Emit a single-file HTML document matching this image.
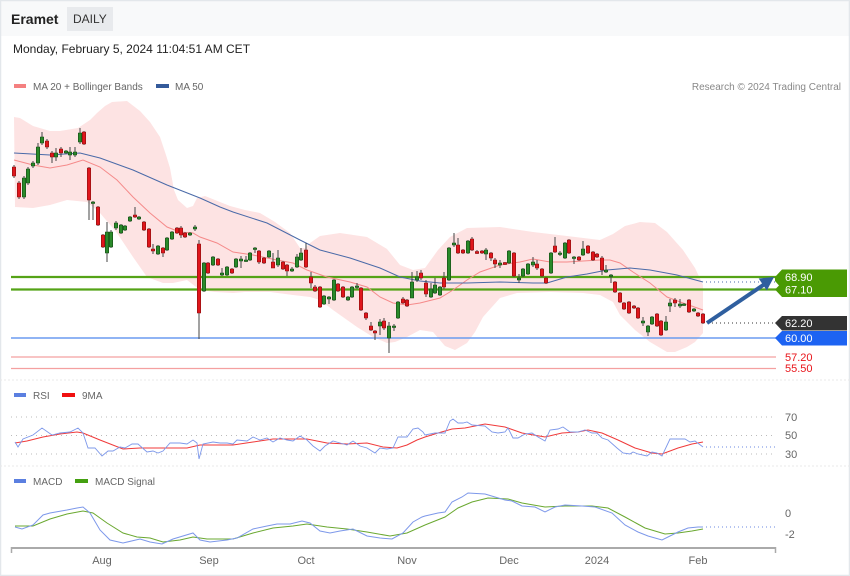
<!DOCTYPE html>
<html><head><meta charset="utf-8"><style>
html,body{margin:0;padding:0;background:#fff;}
svg{display:block;font-family:"Liberation Sans",Arial,sans-serif;}
</style></head><body>
<svg width="850" height="576" viewBox="0 0 850 576" xmlns="http://www.w3.org/2000/svg">
<rect x="0" y="0" width="850" height="576" fill="#fff"/>
<rect x="0" y="0" width="850" height="36" fill="#f8f9fa"/>
<rect x="0.5" y="0.5" width="849" height="575" fill="none" stroke="#e3e7eb" stroke-width="1.5"/>
<text x="11" y="24" font-size="14" font-weight="bold" fill="#222">Eramet</text>
<rect x="67" y="7" width="46" height="24" fill="#e8eaed"/>
<text x="73" y="23" font-size="12" fill="#333">DAILY</text>
<text x="13" y="53" font-size="12" fill="#222">Monday, February 5, 2024 11:04:51 AM CET</text>
<rect x="14" y="84" width="12" height="4" fill="#f48080"/>
<text x="33" y="90" font-size="10" fill="#666">MA 20 + Bollinger Bands</text>
<rect x="156" y="84" width="13" height="4" fill="#345a9a"/>
<text x="175" y="90" font-size="10" fill="#666">MA 50</text>
<text x="841" y="90" font-size="10" fill="#888" text-anchor="end">Research © 2024 Trading Central</text>

<!-- Bollinger band -->
<polygon fill="#fde3e3" points="14,117 20,118 33,126 50,131 60,131 78,128 90,120 97,113 105,106 112,102 127,101 140,111 150,122 160,137 166,155 170,168 174,190 178,200 187,208 193,206 197,198 205,196 215,200 230,206 245,210 260,213 275,222 290,233 300,248 305,248 310,243 320,236 340,233 367,237 387,249 400,265 413,270 425,268 438,250 450,237 467,228 500,227 533,232 567,236 600,240 613,234 625,226 640,222 655,223 667,232 683,250 695,268 703,285 703,333 695,342 687,347 675,352 667,352 650,342 635,330 620,315 613,302 600,295 583,293 550,292 517,293 500,298 483,317 475,332 467,343 455,350 445,346 433,332 420,330 407,337 395,342 387,343 373,337 357,327 333,310 320,300 310,297 293,295 270,292 245,292 233,293 215,292 200,290 187,280 173,283 163,283 147,277 133,257 117,233 100,213 87,202 67,200 50,205 33,208 15,207"/>

<!-- horizontal levels -->
<line x1="11" y1="277" x2="776" y2="277" stroke="#55a317" stroke-width="2.2"/>
<line x1="11" y1="289.5" x2="776" y2="289.5" stroke="#55a317" stroke-width="2.2"/>
<line x1="11" y1="338" x2="776" y2="338" stroke="#6b9cf0" stroke-width="1.6"/>
<line x1="11" y1="357" x2="776" y2="357" stroke="#f4a0a0" stroke-width="1.2"/>
<line x1="11" y1="368.5" x2="776" y2="368.5" stroke="#f4a0a0" stroke-width="1.2"/>

<!-- MA lines -->
<polyline fill="none" stroke="#f58a8a" stroke-width="1" points="14,160 33,165 50,168 67,165 83,160 100,167 117,180 133,197 150,213 167,227 180,232 193,233 200,237 217,243 233,252 253,255 277,260 293,263 307,270 327,277 350,282 367,287 380,297 393,303 407,305 420,303 440,298 453,290 467,280 480,272 500,265 520,262 533,259 550,262 567,262 583,261 600,260 610,260 620,263 633,272 650,283 667,297 683,303 703,310"/>
<polyline fill="none" stroke="#4a6aa8" stroke-width="1" points="14,153 50,155 80,153 100,158 133,170 167,185 200,198 220,207 233,212 267,223 300,240 320,250 350,258 380,268 400,277 420,281 440,283 467,283 500,282 533,283 547,283 567,277 587,274 607,270 630,268 650,270 677,275 703,282"/>
<line x1="706" y1="282" x2="776" y2="282" stroke="#4a6aa8" stroke-width="1" stroke-dasharray="1,3"/>
<line x1="708" y1="323" x2="776" y2="323" stroke="#333" stroke-width="1" stroke-dasharray="1,3"/>

<!-- candles -->
<g id="candles">
<path fill="none" stroke="#444" stroke-width="1" d="M14 165V178M19 181V199M24 176V199M28 167V185M33 161V168M38 143V165M42 132V145M47 139V149M52 151V163M56 148V161M61 147V157M66 150V154M70 147V160M75 147V157M80 128V144M84 131V145M89 167V220M93 201V220M98 206V226M103 234V248M107 222V262M111 230V248M116 221V230M121 224V234M125 225V231M130 216V222M135 207V218M139 216V220M144 221V231M149 228V248M153 244V254M158 245V255M163 247V257M167 237V251M172 231V240M177 227V234M181 226V238M185 232V238M190 232V236M195 225V231M199 240V339M204 262V292M208 262V274M213 256V266M218 258V266M222 268V276M227 266V276M232 268V274M236 258V268M241 256V268M246 256V262M250 252V261M255 247V253M259 250V264M264 257V264M269 250V258M273 253V268M278 250V267M283 261V270M287 264V276M292 267V272M297 254V268M301 248V261M306 243V268M311 272V288M315 285V292M320 286V308M324 295V305M329 296V304M334 279V301M338 283V292M343 286V298M348 296V301M352 286V298M357 283V289M361 287V311M366 312V320M371 322V331M375 330V340M380 319V335M384 318V330M389 322V353M394 324V331M398 301V319M403 297V304M407 299V307M412 272V298M417 271V282M421 270V280M426 280V297M431 283V298M435 278V294M440 286V296M444 272V289M449 247V281M454 233V247M458 238V254M463 249V254M468 240V254M472 237V251M477 250V254M482 250V254M486 248V260M491 252V261M495 258V268M500 260V268M505 262V265M509 250V264M514 252V277M519 274V283M523 268V277M528 263V275M533 257V267M537 260V270M542 268V277M546 277V284M551 252V274M555 237V253M560 251V256M565 242V259M569 239V254M574 256V264M579 256V261M583 241V256M588 245V254M593 251V261M597 253V258M602 256V275M606 265V273M611 274V283M615 281V293M620 292V303M624 302V310M629 301V314M634 305V309M638 307V319M643 317V326M648 325V336M652 316V325M657 313V327M661 320V336M666 316V331M670 299V312M675 298V307M680 299V308M684 303V306M689 299V313M694 308V312M698 312V317M703 313V324"/>
<path fill="#e0161c" stroke="#8a1010" stroke-width="0.6" d="M12.3 167h3.4v9h-3.4zM17.3 183h3.4v14h-3.4zM45.3 141h3.4v6h-3.4zM50.3 153h3.4v4h-3.4zM59.3 149h3.4v4h-3.4zM82.3 132h3.4v12h-3.4zM87.3 168h3.4v32h-3.4zM96.3 207h3.4v18h-3.4zM101.3 235h3.4v12h-3.4zM133.3 215h3.4v2h-3.4zM142.3 222h3.4v8h-3.4zM147.3 229h3.4v18h-3.4zM151.3 249h3.4v2h-3.4zM161.3 248h3.4v5h-3.4zM175.3 228h3.4v5h-3.4zM179.3 228h3.4v7h-3.4zM183.3 233h3.4v4h-3.4zM197.3 244h3.4v69h-3.4zM206.3 263h3.4v10h-3.4zM216.3 259h3.4v6h-3.4zM230.3 269h3.4v4h-3.4zM257.3 251h3.4v11h-3.4zM262.3 258h3.4v5h-3.4zM271.3 262h3.4v6h-3.4zM281.3 262h3.4v7h-3.4zM285.3 265h3.4v6h-3.4zM304.3 250h3.4v17h-3.4zM309.3 277h3.4v6h-3.4zM313.3 287h3.4v4h-3.4zM318.3 287h3.4v20h-3.4zM336.3 284h3.4v7h-3.4zM341.3 287h3.4v10h-3.4zM359.3 288h3.4v22h-3.4zM364.3 313h3.4v5h-3.4zM369.3 326h3.4v4h-3.4zM373.3 331h3.4v2h-3.4zM382.3 321h3.4v7h-3.4zM401.3 299h3.4v4h-3.4zM405.3 300h3.4v6h-3.4zM419.3 273h3.4v5h-3.4zM424.3 283h3.4v11h-3.4zM442.3 278h3.4v9h-3.4zM456.3 245h3.4v8h-3.4zM461.3 250h3.4v3h-3.4zM470.3 239h3.4v11h-3.4zM475.3 251.5h3.4v2h-3.4zM480.3 251h3.4v2h-3.4zM489.3 253h3.4v5h-3.4zM493.3 260h3.4v4h-3.4zM503.3 262.5h3.4v2h-3.4zM512.3 253h3.4v23h-3.4zM535.3 264h3.4v4h-3.4zM540.3 269h3.4v7h-3.4zM544.3 278h3.4v5h-3.4zM553.3 246h3.4v6h-3.4zM567.3 240h3.4v13h-3.4zM577.3 257h3.4v3h-3.4zM586.3 246h3.4v7h-3.4zM591.3 252h3.4v8h-3.4zM595.3 254h3.4v3h-3.4zM600.3 258h3.4v12h-3.4zM613.3 282h3.4v10h-3.4zM618.3 293h3.4v9h-3.4zM622.3 303h3.4v6h-3.4zM627.3 302h3.4v11h-3.4zM632.3 306h3.4v2h-3.4zM636.3 308h3.4v10h-3.4zM655.3 314h3.4v12h-3.4zM659.3 321h3.4v14h-3.4zM673.3 300h3.4v3h-3.4zM687.3 300h3.4v12h-3.4zM696.3 313h3.4v3h-3.4zM701.3 314h3.4v9h-3.4z"/>
<path fill="#2a8a2a" stroke="#154a15" stroke-width="0.6" d="M22.3 178h3.4v19h-3.4zM26.3 169h3.4v14h-3.4zM31.3 163h3.4v3h-3.4zM36.3 147h3.4v16h-3.4zM40.3 137h3.4v6h-3.4zM54.3 153h3.4v4h-3.4zM64.3 151h3.4v2h-3.4zM68.3 152h3.4v3h-3.4zM73.3 152h3.4v3h-3.4zM78.3 133h3.4v9h-3.4zM91.3 202h3.4v1.5h-3.4zM105.3 232h3.4v21h-3.4zM109.3 232h3.4v15h-3.4zM114.3 223h3.4v5h-3.4zM119.3 225h3.4v8h-3.4zM123.3 226h3.4v4h-3.4zM128.3 217h3.4v4h-3.4zM137.3 217h3.4v2h-3.4zM156.3 246h3.4v8h-3.4zM165.3 238h3.4v12h-3.4zM170.3 232h3.4v7h-3.4zM188.3 233h3.4v2h-3.4zM193.3 227h3.4v2h-3.4zM202.3 263h3.4v28h-3.4zM211.3 257h3.4v8h-3.4zM220.3 273h3.4v2h-3.4zM225.3 267h3.4v8h-3.4zM234.3 259h3.4v8h-3.4zM239.3 259h3.4v2h-3.4zM244.3 260h3.4v1.5h-3.4zM248.3 253h3.4v7h-3.4zM253.3 248h3.4v1.5h-3.4zM267.3 251h3.4v6h-3.4zM276.3 258h3.4v7h-3.4zM290.3 269h3.4v2h-3.4zM295.3 257h3.4v10h-3.4zM299.3 253h3.4v7h-3.4zM322.3 296h3.4v8h-3.4zM327.3 297h3.4v2h-3.4zM332.3 280h3.4v20h-3.4zM346.3 297h3.4v3h-3.4zM350.3 287h3.4v10h-3.4zM355.3 286h3.4v1.5h-3.4zM378.3 322h3.4v4h-3.4zM387.3 326h3.4v12h-3.4zM392.3 326h3.4v1.5h-3.4zM396.3 302h3.4v16h-3.4zM410.3 282h3.4v16h-3.4zM415.3 277h3.4v3h-3.4zM429.3 289h3.4v8h-3.4zM433.3 285h3.4v8h-3.4zM438.3 287h3.4v8h-3.4zM447.3 248h3.4v32h-3.4zM452.3 243h3.4v2h-3.4zM466.3 241h3.4v12h-3.4zM484.3 250h3.4v4h-3.4zM498.3 263h3.4v2h-3.4zM507.3 251h3.4v12h-3.4zM517.3 278h3.4v2h-3.4zM521.3 269h3.4v7h-3.4zM526.3 264h3.4v10h-3.4zM531.3 262h3.4v3h-3.4zM549.3 253h3.4v20h-3.4zM558.3 253h3.4v1.5h-3.4zM563.3 243h3.4v15h-3.4zM572.3 257h3.4v1.5h-3.4zM581.3 249h3.4v6h-3.4zM604.3 270h3.4v2h-3.4zM609.3 275h3.4v1.5h-3.4zM641.3 321h3.4v2h-3.4zM646.3 326h3.4v6h-3.4zM650.3 317h3.4v7h-3.4zM664.3 322h3.4v8h-3.4zM668.3 303h3.4v3h-3.4zM678.3 304h3.4v2h-3.4zM682.3 304h3.4v1.5h-3.4zM692.3 309h3.4v2h-3.4z"/>
</g>

<!-- arrow -->
<line x1="707" y1="323" x2="764" y2="284.5" stroke="#2f5f9f" stroke-width="4"/>
<polygon fill="#2f5f9f" points="774,277 766.8,290.5 758.7,278.5"/>

<!-- tags -->
<polygon fill="#4a9a04" points="775,277 782,269.5 847,269.5 847,297 782,297 775,289.5 779,285.5 775,281"/>
<text x="785" y="281" font-size="11" fill="#fff">68.90</text>
<text x="785" y="293.5" font-size="11" fill="#fff">67.10</text>
<polygon fill="#333" points="775,323 782,316 847,316 847,330.5 782,330.5"/>
<text x="785" y="327" font-size="11" fill="#fff">62.20</text>
<polygon fill="#1d63f2" points="775,338 782,331 847,331 847,345.5 782,345.5"/>
<text x="785" y="342" font-size="11" fill="#fff">60.00</text>
<text x="785" y="361" font-size="11" fill="#e8141a">57.20</text>
<text x="785" y="372" font-size="11" fill="#e8141a">55.50</text>

<!-- separators -->
<line x1="0" y1="380" x2="850" y2="380" stroke="#e8e8e8" stroke-width="1" stroke-dasharray="2,2"/>
<line x1="0" y1="466" x2="850" y2="466" stroke="#e8e8e8" stroke-width="1" stroke-dasharray="2,2"/>

<!-- RSI panel -->
<rect x="14" y="393" width="12" height="4" fill="#5b7fe0"/>
<text x="33" y="399" font-size="10" fill="#666">RSI</text>
<rect x="62" y="393" width="13" height="4" fill="#f01010"/>
<text x="82" y="399" font-size="10" fill="#666">9MA</text>
<g stroke="#bbb" stroke-width="1" stroke-dasharray="1,4">
<line x1="11" y1="417" x2="776" y2="417"/>
<line x1="11" y1="435.5" x2="776" y2="435.5"/>
<line x1="11" y1="454" x2="776" y2="454"/>
</g>
<text x="785" y="421" font-size="11" fill="#666">70</text>
<text x="785" y="439" font-size="11" fill="#666">50</text>
<text x="785" y="458" font-size="11" fill="#666">30</text>
<polyline fill="none" stroke="#f03a3a" stroke-width="1" points="15,443 27,441 43,437 60,434 77,432 83,433 100,440 123,449 140,448 160,448 187,448 200,445 233,445 253,442 273,439 293,439 307,439 327,443 347,444 367,443 383,447 397,448 407,445 417,440 425,437 438,433 452,429 465,428 485,424 505,427 522,433 545,437 562,433 578,432 588,430 602,433 618,440 635,448 652,453 662,454 678,448 692,444 703,442"/>
<polyline fill="none" stroke="#7d98ea" stroke-width="0.9" points="15,442 18,447 23,439 33,435 42,428 52,435 60,433 70,432 78,428 83,433 88,448 95,448 102,456 108,451 113,451 120,447 125,448 132,444 138,444 147,452 153,451 158,453 163,451 170,443 180,443 187,444 193,440 197,443 199,459 203,444 213,442 220,443 227,443 233,444 237,440 247,441 253,437 260,440 267,438 273,442 280,438 287,440 293,441 300,436 307,440 313,446 320,451 325,446 333,441 340,443 347,445 353,441 360,446 367,448 375,453 380,448 387,449 393,448 398,437 407,437 413,429 418,428 423,432 425,435 435,433 445,433 450,421 453,419 458,423 463,423 467,422 472,425 485,426 492,432 498,433 505,432 508,428 513,438 518,438 525,434 532,433 538,437 545,441 550,430 558,429 563,427 570,432 578,432 585,430 592,433 597,433 602,438 608,440 617,448 623,453 630,454 633,452 638,454 647,456 652,452 657,453 662,456 670,439 685,439 690,442 695,441 703,447"/>
<line x1="706" y1="447" x2="776" y2="447" stroke="#6b88e0" stroke-width="1" stroke-dasharray="1,3"/>

<!-- MACD panel -->
<rect x="14" y="479" width="12" height="4" fill="#5b7fe0"/>
<text x="33" y="485" font-size="10" fill="#666">MACD</text>
<rect x="75" y="479" width="13" height="4" fill="#44a010"/>
<text x="95" y="485" font-size="10" fill="#666">MACD Signal</text>
<text x="785" y="517" font-size="11" fill="#666">0</text>
<text x="785" y="538" font-size="11" fill="#666">-2</text>
<polyline fill="none" stroke="#6aa830" stroke-width="1" points="15,526 33,526 50,519 67,514 83,511 93,513 107,523 123,533 137,537 150,538 163,542 180,540 193,537 207,539 233,539 253,533 273,528 293,526 307,524 327,527 347,529 367,532 390,536 407,533 425,525 445,517 458,508 472,502 488,498 508,499 522,503 545,507 565,506 592,506 608,508 625,517 645,528 665,534 678,533 692,531 703,529"/>
<polyline fill="none" stroke="#7d98ea" stroke-width="1" points="15,527 22,529 33,525 43,515 50,513 67,510 77,508 83,507 90,513 100,530 110,540 123,543 140,539 150,542 162,544 173,539 193,533 200,540 210,542 227,540 237,538 253,529 267,526 277,524 290,524 302,521 310,523 320,531 330,533 340,531 353,529 367,536 380,538 392,539 403,533 413,522 422,517 425,516 438,513 445,512 452,502 462,497 468,493 485,494 495,497 505,500 512,501 522,506 535,507 545,512 555,507 565,505 582,506 595,507 612,513 625,525 638,532 648,536 662,540 668,537 678,532 688,528 698,527 703,527"/>
<line x1="706" y1="527" x2="776" y2="527" stroke="#6b88e0" stroke-width="1" stroke-dasharray="1,3"/>

<!-- x axis -->
<line x1="11" y1="548" x2="776" y2="548" stroke="#aaa" stroke-width="2"/>
<line x1="11.5" y1="547" x2="11.5" y2="553" stroke="#aaa" stroke-width="1.5"/>
<line x1="775.5" y1="547" x2="775.5" y2="553" stroke="#aaa" stroke-width="1.5"/>
<g font-size="11" fill="#666" text-anchor="middle">
<text x="102" y="564">Aug</text>
<text x="209" y="564">Sep</text>
<text x="306" y="564">Oct</text>
<text x="407" y="564">Nov</text>
<text x="509" y="564">Dec</text>
<text x="597" y="564">2024</text>
<text x="698" y="564">Feb</text>
</g>
</svg>
</body></html>
